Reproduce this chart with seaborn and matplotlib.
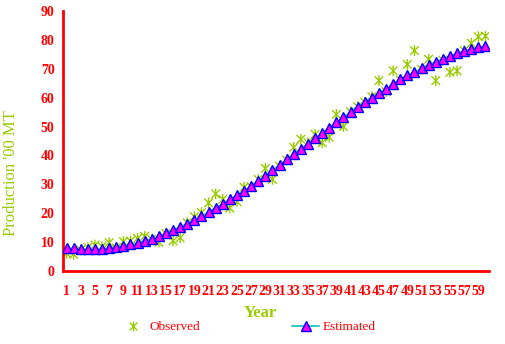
import numpy as np
import pandas as pd
import matplotlib
matplotlib.use("Agg")
import matplotlib.pyplot as plt
from matplotlib.path import Path
from matplotlib.lines import Line2D
import seaborn as sns

years = list(range(1, 61))
observed = [6.1, 5.8, 7.3, 8.1, 9.0, 8.4, 9.8, 8.0, 10.2, 10.4,
            11.3, 12.0, 11.0, 10.0, 13.0, 10.4, 11.5, 16.7, 18.8, 20.2,
            23.6, 26.7, 24.8, 21.8, 24.0, 29.0, 29.2, 31.7, 35.5, 31.7,
            36.3, 38.4, 42.8, 45.6, 44.4, 47.3, 44.4, 46.3, 54.2, 50.0,
            55.1, 56.9, 58.4, 60.3, 65.9, 62.1, 69.3, 66.1, 71.5, 76.3,
            69.8, 73.3, 65.9, 73.0, 68.8, 69.3, 76.3, 78.8, 81.1, 81.3]
estimated = [8.0, 7.8, 7.6, 7.5, 7.5, 7.6, 7.9, 8.2, 8.7, 9.2,
             9.8, 10.4, 11.1, 12.0, 13.0, 14.2, 15.3, 16.4, 17.6, 19.0,
             20.4, 21.9, 23.3, 24.8, 26.3, 27.8, 29.4, 31.2, 33.0, 34.9,
             36.7, 38.6, 40.5, 42.3, 44.0, 45.9, 47.8, 49.6, 51.5, 53.2,
             55.2, 56.9, 58.4, 60.0, 61.7, 63.1, 64.8, 66.3, 67.7, 68.9,
             70.1, 71.3, 72.4, 73.5, 74.5, 75.4, 76.1, 76.8, 77.4, 77.9]
yticks = [0, 10, 20, 30, 40, 50, 60, 70, 80, 90]

df = pd.DataFrame({"Year": years, "Observed": observed, "Estimated": estimated})

sns.set_style("white")
plt.rcParams['font.family'] = ['Liberation Serif', 'DejaVu Serif']

RED = "#FF0000"
GREEN = "#99CC00"

star = Path([(0, -1), (0, 1), (-0.8, -0.8), (0.8, 0.8), (-0.8, 0.8), (0.8, -0.8)],
            [Path.MOVETO, Path.LINETO, Path.MOVETO, Path.LINETO, Path.MOVETO, Path.LINETO])

fig = plt.figure(figsize=(5.06, 3.44), dpi=100)
ax = fig.add_axes([63/506, 1-271/344, (489-63)/506, 260/344])

sns.scatterplot(data=df, x="Year", y="Observed", ax=ax, marker=star, s=60,
                facecolor="none", edgecolor=GREEN, linewidth=1.0, zorder=2)
sns.lineplot(data=df, x="Year", y="Estimated", ax=ax, color="#33CCCC", lw=1.2,
             marker="^", markersize=6.5, markerfacecolor="#FF00FF",
             markeredgecolor="#0000FF", markeredgewidth=1.0, zorder=3)

ax.set_xlim(0.5, 60.5)
ax.set_ylim(0, 90)
ax.set_yticks(yticks)
ax.set_yticklabels([str(v) for v in yticks], color=RED, fontweight="bold", fontsize=10)
ax.set_xticks(np.arange(0.5, 61, 1))
ax.set_xticklabels([])
ax.set_xticks(years[::2], minor=True)
ax.set_xticklabels([str(v) for v in years[::2]], minor=True, color=RED,
                   fontweight="bold", fontsize=10)
ax.tick_params(axis="x", which="major", direction="out", length=4, width=1.5, color=RED)
ax.tick_params(axis="x", which="minor", length=0, pad=10)
ax.tick_params(axis="y", direction="out", length=4, width=1.5, color=RED, pad=2)

for s in ["top", "right"]:
    ax.spines[s].set_visible(False)
for s in ["left", "bottom"]:
    ax.spines[s].set_color(RED)
    ax.spines[s].set_linewidth(2)

ax.set_xlabel("Year", color=GREEN, fontweight="bold", fontsize=12)
ax.set_ylabel("Production '00 MT", color=GREEN, fontsize=12)
ax.xaxis.set_label_coords(0.462, -0.131)
ax.yaxis.set_label_coords(-0.103, 0.377)
ax.grid(False)

h1 = Line2D([], [], ls="none", marker=star, markersize=7, color=GREEN, markeredgewidth=1.0)
h2 = Line2D([], [], color="#33CCCC", lw=1.5, marker="^", markersize=7,
            markerfacecolor="#FF00FF", markeredgecolor="#0000FF")
leg = fig.legend([h1, h2], ["Observed", "Estimated"], loc="center",
                 bbox_to_anchor=(247.5/506, 1-327/344), ncol=2, frameon=False,
                 fontsize=9.5, handlelength=2.0, handletextpad=0.25, columnspacing=7.0)
for t in leg.get_texts():
    t.set_color(RED)

fig.savefig("out.png", dpi=100)
